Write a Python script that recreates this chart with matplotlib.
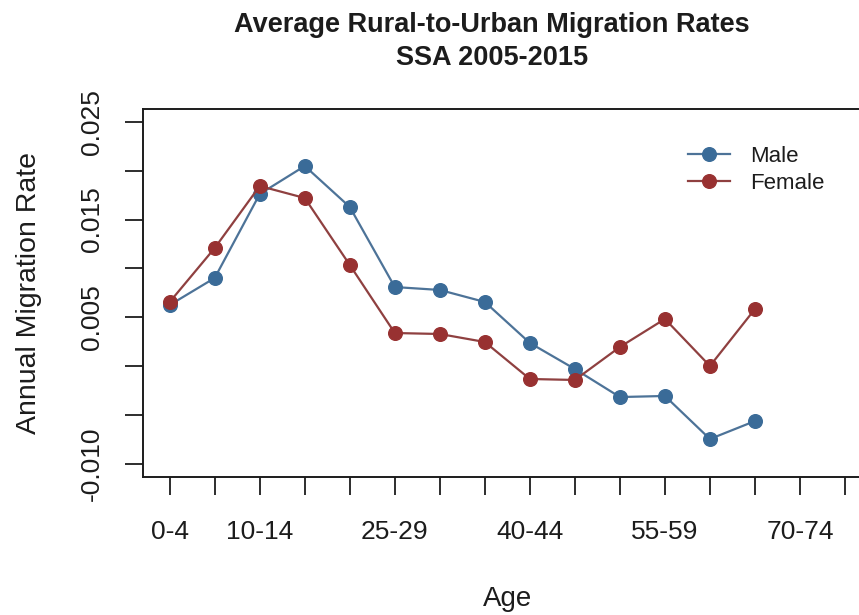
import matplotlib
matplotlib.use("Agg")
import matplotlib.pyplot as plt

age_groups = ["0-4", "5-9", "10-14", "15-19", "20-24", "25-29", "30-34",
              "35-39", "40-44", "45-49", "50-54", "55-59", "60-64", "65-69",
              "70-74", "75-79"]
shown_labels = ["0-4", "10-14", "25-29", "40-44", "55-59", "70-74"]

male = [0.00625, 0.00902, 0.01762, 0.02049, 0.01629, 0.00809, 0.00779,
        0.00656, 0.00236, -0.00031, -0.00318, -0.00307, -0.00748, -0.00564]
female = [0.00656, 0.01209, 0.01844, 0.01721, 0.01035, 0.00338, 0.00328,
          0.00246, -0.00133, -0.00143, 0.00195, 0.00482, 0.00000, 0.00584]

y_ticks = [-0.010, -0.005, 0.0, 0.005, 0.010, 0.015, 0.020, 0.025]
y_labels = ["-0.010", "", "", "0.005", "", "0.015", "", "0.025"]

plt.rcParams["font.family"] = ["Liberation Sans", "DejaVu Sans"]
ink = "#1c1c1c"

W, H = 859, 615
fig = plt.figure(figsize=(W / 100, H / 100), dpi=100)
box_l, box_r, box_t, box_b = 142.7, 872.0, 109.0, 476.7
ax = fig.add_axes([box_l / W, 1 - box_b / H,
                   (box_r - box_l) / W, (box_b - box_t) / H])

x = list(range(1, len(age_groups) + 1))
ax.plot(x[:len(male)], male, color="#4d7398", lw=1.6, marker="o",
        markersize=9.8, markerfacecolor="#3a6b98", markeredgecolor="#3a6b98",
        label="Male")
ax.plot(x[:len(female)], female, color="#8f4040", lw=1.6, marker="o",
        markersize=9.8, markerfacecolor="#983131", markeredgecolor="#983131",
        label="Female")

ax.set_xlim(0.4, 16.6)
ax.set_ylim(-0.01134, 0.02633)

ax.set_xticks(x)
ax.set_xticklabels([a if a in shown_labels else "" for a in age_groups],
                   fontsize=19)
ax.set_yticks(y_ticks)
ax.set_yticklabels(y_labels, fontsize=19, rotation=90, va="center")

ax.tick_params(axis="both", direction="out", length=13, width=1.3,
               color=ink, labelcolor=ink)
ax.tick_params(axis="x", pad=18)
ax.tick_params(axis="y", pad=15)

for s in ax.spines.values():
    s.set_linewidth(1.4)
    s.set_color(ink)

ax.set_xlabel("Age", fontsize=20, color=ink)
ax.xaxis.label.set_va("center")
ax.xaxis.set_label_coords(0.5, -(599 - box_b) / (box_b - box_t))
ax.set_ylabel("Annual Migration Rate", fontsize=20.5, color=ink)
ax.yaxis.label.set_va("center")
ax.yaxis.set_label_coords(-(box_l - 29) / (box_r - box_l), 0.5)

fig.text(492 / W, 1 - 32 / H, "Average Rural-to-Urban Migration Rates",
         ha="center", va="baseline", fontsize=19.5, fontweight="bold",
         color=ink)
fig.text(492 / W, 1 - 65 / H, "SSA 2005-2015",
         ha="center", va="baseline", fontsize=19.5, fontweight="bold",
         color=ink)

ax.legend(frameon=False, loc="upper left", fontsize=16,
          bbox_to_anchor=(688 / W, 1 - 146 / H),
          bbox_transform=fig.transFigure, borderpad=0, borderaxespad=0,
          handlelength=1.9, handletextpad=0.9, labelspacing=0.25,
          labelcolor=ink)

fig.savefig("out.png", dpi=100)
